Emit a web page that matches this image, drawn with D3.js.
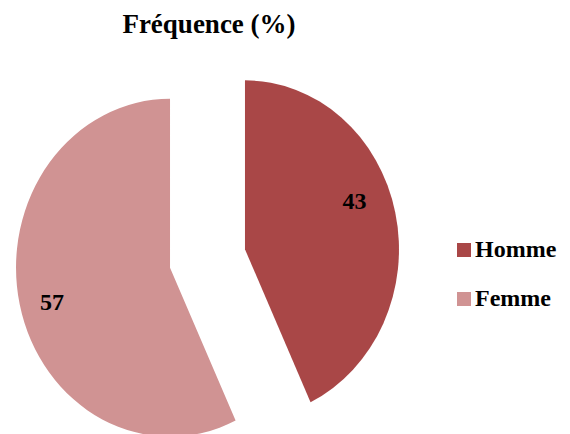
<!DOCTYPE html>
<html>
<head>
<meta charset="utf-8">
<script src="https://cdn.jsdelivr.net/npm/d3@7"></script>
<style>
  body { margin: 0; background: #fff; }
</style>
</head>
<body>
<div id="chart"></div>
<script>
const categories = ['Homme', 'Femme'];
const values = [43, 57];
const title = 'Fréquence (%)';

const width = 570;
const height = 434;
const colors = ['#A94747', '#D09393'];
const font = 'Liberation Serif';

// the picture is a bit stretched vertically
const cx = 207.5, cy = 258.5;
const r = 154;
const yStretch = 1.097;
const explode = 38.4;
// where Excel drops the value labels, relative to the slice middle
const labelShift = [-0.16, -0.04];
const labelRadius = [118, 122];

const svg = d3.select('#chart')
  .append('svg')
  .attr('width', width)
  .attr('height', height);

svg.append('text')
  .attr('x', 209)
  .attr('y', 33)
  .attr('text-anchor', 'middle')
  .attr('font-family', font)
  .attr('font-weight', 'bold')
  .attr('font-size', 27)
  .text(title);

const pie = d3.pie().sort(null).value(d => d);
const arcs = pie(values);
const arc = d3.arc().innerRadius(0).outerRadius(r);

const g = svg.append('g')
  .attr('transform', `translate(${cx},${cy}) scale(1,${yStretch})`);

const slices = g.selectAll('g.slice')
  .data(arcs)
  .enter()
  .append('g')
  .attr('class', 'slice')
  .attr('transform', d => {
    const a = (d.startAngle + d.endAngle) / 2;
    return `translate(${Math.sin(a) * explode},${-Math.cos(a) * explode})`;
  });

slices.append('path')
  .attr('d', arc)
  .attr('fill', (d, i) => colors[i]);

// labels drawn outside the stretched group so the text is not distorted
arcs.forEach((d, i) => {
  const mid = (d.startAngle + d.endAngle) / 2;
  const a = mid + labelShift[i];
  const x = cx + Math.sin(mid) * explode + Math.sin(a) * labelRadius[i];
  const y = cy + (-Math.cos(mid) * explode - Math.cos(a) * labelRadius[i]) * yStretch;
  svg.append('text')
    .attr('x', x)
    .attr('y', y + 8)
    .attr('text-anchor', 'middle')
    .attr('font-family', font)
    .attr('font-weight', 'bold')
    .attr('font-size', 24)
    .text(values[i]);
});

const legend = svg.append('g')
  .selectAll('g')
  .data(categories)
  .enter()
  .append('g')
  .attr('transform', (d, i) => `translate(457,${257 + i * 49})`);

legend.append('rect')
  .attr('x', 0)
  .attr('y', -14)
  .attr('width', 14)
  .attr('height', 14)
  .attr('fill', (d, i) => colors[i]);

legend.append('text')
  .attr('x', 18)
  .attr('y', 0)
  .attr('font-family', font)
  .attr('font-weight', 'bold')
  .attr('font-size', 24)
  .text(d => d);
</script>
</body>
</html>
